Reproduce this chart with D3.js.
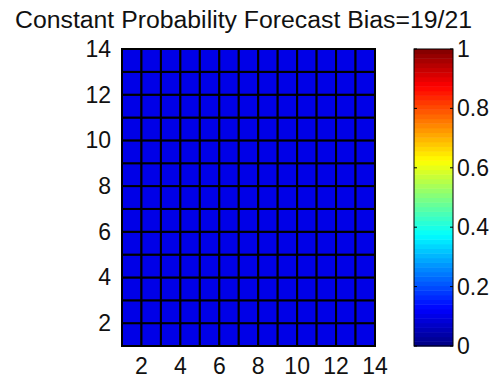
<!DOCTYPE html>
<html>
<head>
<meta charset="utf-8">
<script src="https://cdn.jsdelivr.net/npm/d3@7"></script>
<style>
  body { margin: 0; background: #fff; }
  text { font-family: "Liberation Sans", Arial, sans-serif; fill: #111; }
</style>
</head>
<body>
<div id="chart"></div>
<script>
// cell edges (pcolor style, 14 edges -> 13 cells each way)
let xEdges = [1, 2, 3, 4, 5, 6, 7, 8, 9, 10, 11, 12, 13, 14];
let yEdges = [1, 2, 3, 4, 5, 6, 7, 8, 9, 10, 11, 12, 13, 14];

// probability in every cell (constant forecast)
let cellValues = [
    [0.1, 0.1, 0.1, 0.1, 0.1, 0.1, 0.1, 0.1, 0.1, 0.1, 0.1, 0.1, 0.1],
    [0.1, 0.1, 0.1, 0.1, 0.1, 0.1, 0.1, 0.1, 0.1, 0.1, 0.1, 0.1, 0.1],
    [0.1, 0.1, 0.1, 0.1, 0.1, 0.1, 0.1, 0.1, 0.1, 0.1, 0.1, 0.1, 0.1],
    [0.1, 0.1, 0.1, 0.1, 0.1, 0.1, 0.1, 0.1, 0.1, 0.1, 0.1, 0.1, 0.1],
    [0.1, 0.1, 0.1, 0.1, 0.1, 0.1, 0.1, 0.1, 0.1, 0.1, 0.1, 0.1, 0.1],
    [0.1, 0.1, 0.1, 0.1, 0.1, 0.1, 0.1, 0.1, 0.1, 0.1, 0.1, 0.1, 0.1],
    [0.1, 0.1, 0.1, 0.1, 0.1, 0.1, 0.1, 0.1, 0.1, 0.1, 0.1, 0.1, 0.1],
    [0.1, 0.1, 0.1, 0.1, 0.1, 0.1, 0.1, 0.1, 0.1, 0.1, 0.1, 0.1, 0.1],
    [0.1, 0.1, 0.1, 0.1, 0.1, 0.1, 0.1, 0.1, 0.1, 0.1, 0.1, 0.1, 0.1],
    [0.1, 0.1, 0.1, 0.1, 0.1, 0.1, 0.1, 0.1, 0.1, 0.1, 0.1, 0.1, 0.1],
    [0.1, 0.1, 0.1, 0.1, 0.1, 0.1, 0.1, 0.1, 0.1, 0.1, 0.1, 0.1, 0.1],
    [0.1, 0.1, 0.1, 0.1, 0.1, 0.1, 0.1, 0.1, 0.1, 0.1, 0.1, 0.1, 0.1],
    [0.1, 0.1, 0.1, 0.1, 0.1, 0.1, 0.1, 0.1, 0.1, 0.1, 0.1, 0.1, 0.1]
];

let xTicks = [2, 4, 6, 8, 10, 12, 14];
let yTicks = [2, 4, 6, 8, 10, 12, 14];
let cbTicks = [0, 0.2, 0.4, 0.6, 0.8, 1];
let cbTickLabels = ["0", "0.2", "0.4", "0.6", "0.8", "1"];

let title = "Constant Probability Forecast Bias=19/21";

//----------------------------------------
// matlab jet colormap, 64 levels
function jet(v) {
    let n = 64;
    let i = Math.min(n - 1, Math.max(0, Math.floor(v * (n - 1) + 1e-9)));
    let t = (i + 0.5) / n * 4;  // 0..4
    let clip = function(a) { return Math.max(0, Math.min(1, a)); };
    let r = clip(Math.min(t - 1.5, -t + 4.5));
    let g = clip(Math.min(t - 0.5, -t + 3.5));
    let b = clip(Math.min(t + 0.5, -t + 2.5));
    return d3.rgb(r * 255, g * 255, b * 255).toString();
}

//----------------------------------------
// SVG setup
let width = 489,
    height = 379;

let svg = d3.select('#chart').append('svg')
    .attr('width', width)
    .attr('height', height);

let x = d3.scaleLinear().domain([1, 14]).range([122, 375]);
let y = d3.scaleLinear().domain([1, 14]).range([346, 49]);

//----------------------------------------
// cells
let cells = [];
cellValues.forEach(function(row, j) {
    row.forEach(function(v, i) {
        cells.push({x0: xEdges[i], x1: xEdges[i + 1], y0: yEdges[j], y1: yEdges[j + 1], v: v});
    });
});

svg.append('g').selectAll('rect')
    .data(cells)
    .enter()
    .append('rect')
    .attr('x', d => x(d.x0))
    .attr('y', d => y(d.y1))
    .attr('width', d => x(d.x1) - x(d.x0))
    .attr('height', d => y(d.y0) - y(d.y1))
    .style('fill', d => jet(d.v))
    .style('stroke', '#000')
    .style('stroke-width', 2);

//----------------------------------------
// axes labels (ticks hidden by the cell edges)
let fontSize = 23;

svg.append('g').selectAll('text')
    .data(xTicks)
    .enter()
    .append('text')
    .attr('x', d => x(d))
    .attr('y', 374)
    .attr('text-anchor', 'middle')
    .style('font-size', fontSize + 'px')
    .text(d => d);

svg.append('g').selectAll('text')
    .data(yTicks)
    .enter()
    .append('text')
    .attr('x', 111)
    .attr('y', d => y(d) + 8)
    .attr('text-anchor', 'end')
    .style('font-size', fontSize + 'px')
    .text(d => d);

//----------------------------------------
// title
svg.append('text')
    .attr('x', 15)
    .attr('y', 28)
    .attr('textLength', 457)
    .attr('lengthAdjust', 'spacingAndGlyphs')
    .style('font-size', '23px')
    .text(title);

//----------------------------------------
// colorbar
let cbX0 = 414, cbX1 = 453;
let cb = d3.scaleLinear().domain([0, 1]).range([346, 49]);
let levels = d3.range(64).map(i => i / 63);

svg.append('g').selectAll('rect')
    .data(levels)
    .enter()
    .append('rect')
    .attr('x', cbX0)
    .attr('width', cbX1 - cbX0)
    .attr('y', (d, i) => cb((i + 1) / 64))
    .attr('height', cb(0) - cb(1 / 64) + 0.5)
    .style('fill', d => jet(d));

svg.append('rect')
    .attr('x', cbX0)
    .attr('y', cb(1))
    .attr('width', cbX1 - cbX0)
    .attr('height', cb(0) - cb(1))
    .style('fill', 'none')
    .style('stroke', '#000')
    .style('stroke-width', 1);

let cbTickG = svg.append('g');
cbTickG.selectAll('line.l')
    .data(cbTicks)
    .enter()
    .append('line')
    .attr('x1', cbX0).attr('x2', cbX0 + 3)
    .attr('y1', d => cb(d)).attr('y2', d => cb(d))
    .style('stroke', '#000');
cbTickG.selectAll('line.r')
    .data(cbTicks)
    .enter()
    .append('line')
    .attr('x1', cbX1 - 3).attr('x2', cbX1)
    .attr('y1', d => cb(d)).attr('y2', d => cb(d))
    .style('stroke', '#000');

svg.append('g').selectAll('text')
    .data(cbTicks)
    .enter()
    .append('text')
    .attr('x', 457)
    .attr('y', d => cb(d) + 8)
    .style('font-size', fontSize + 'px')
    .text((d, i) => cbTickLabels[i]);
</script>
</body>
</html>
